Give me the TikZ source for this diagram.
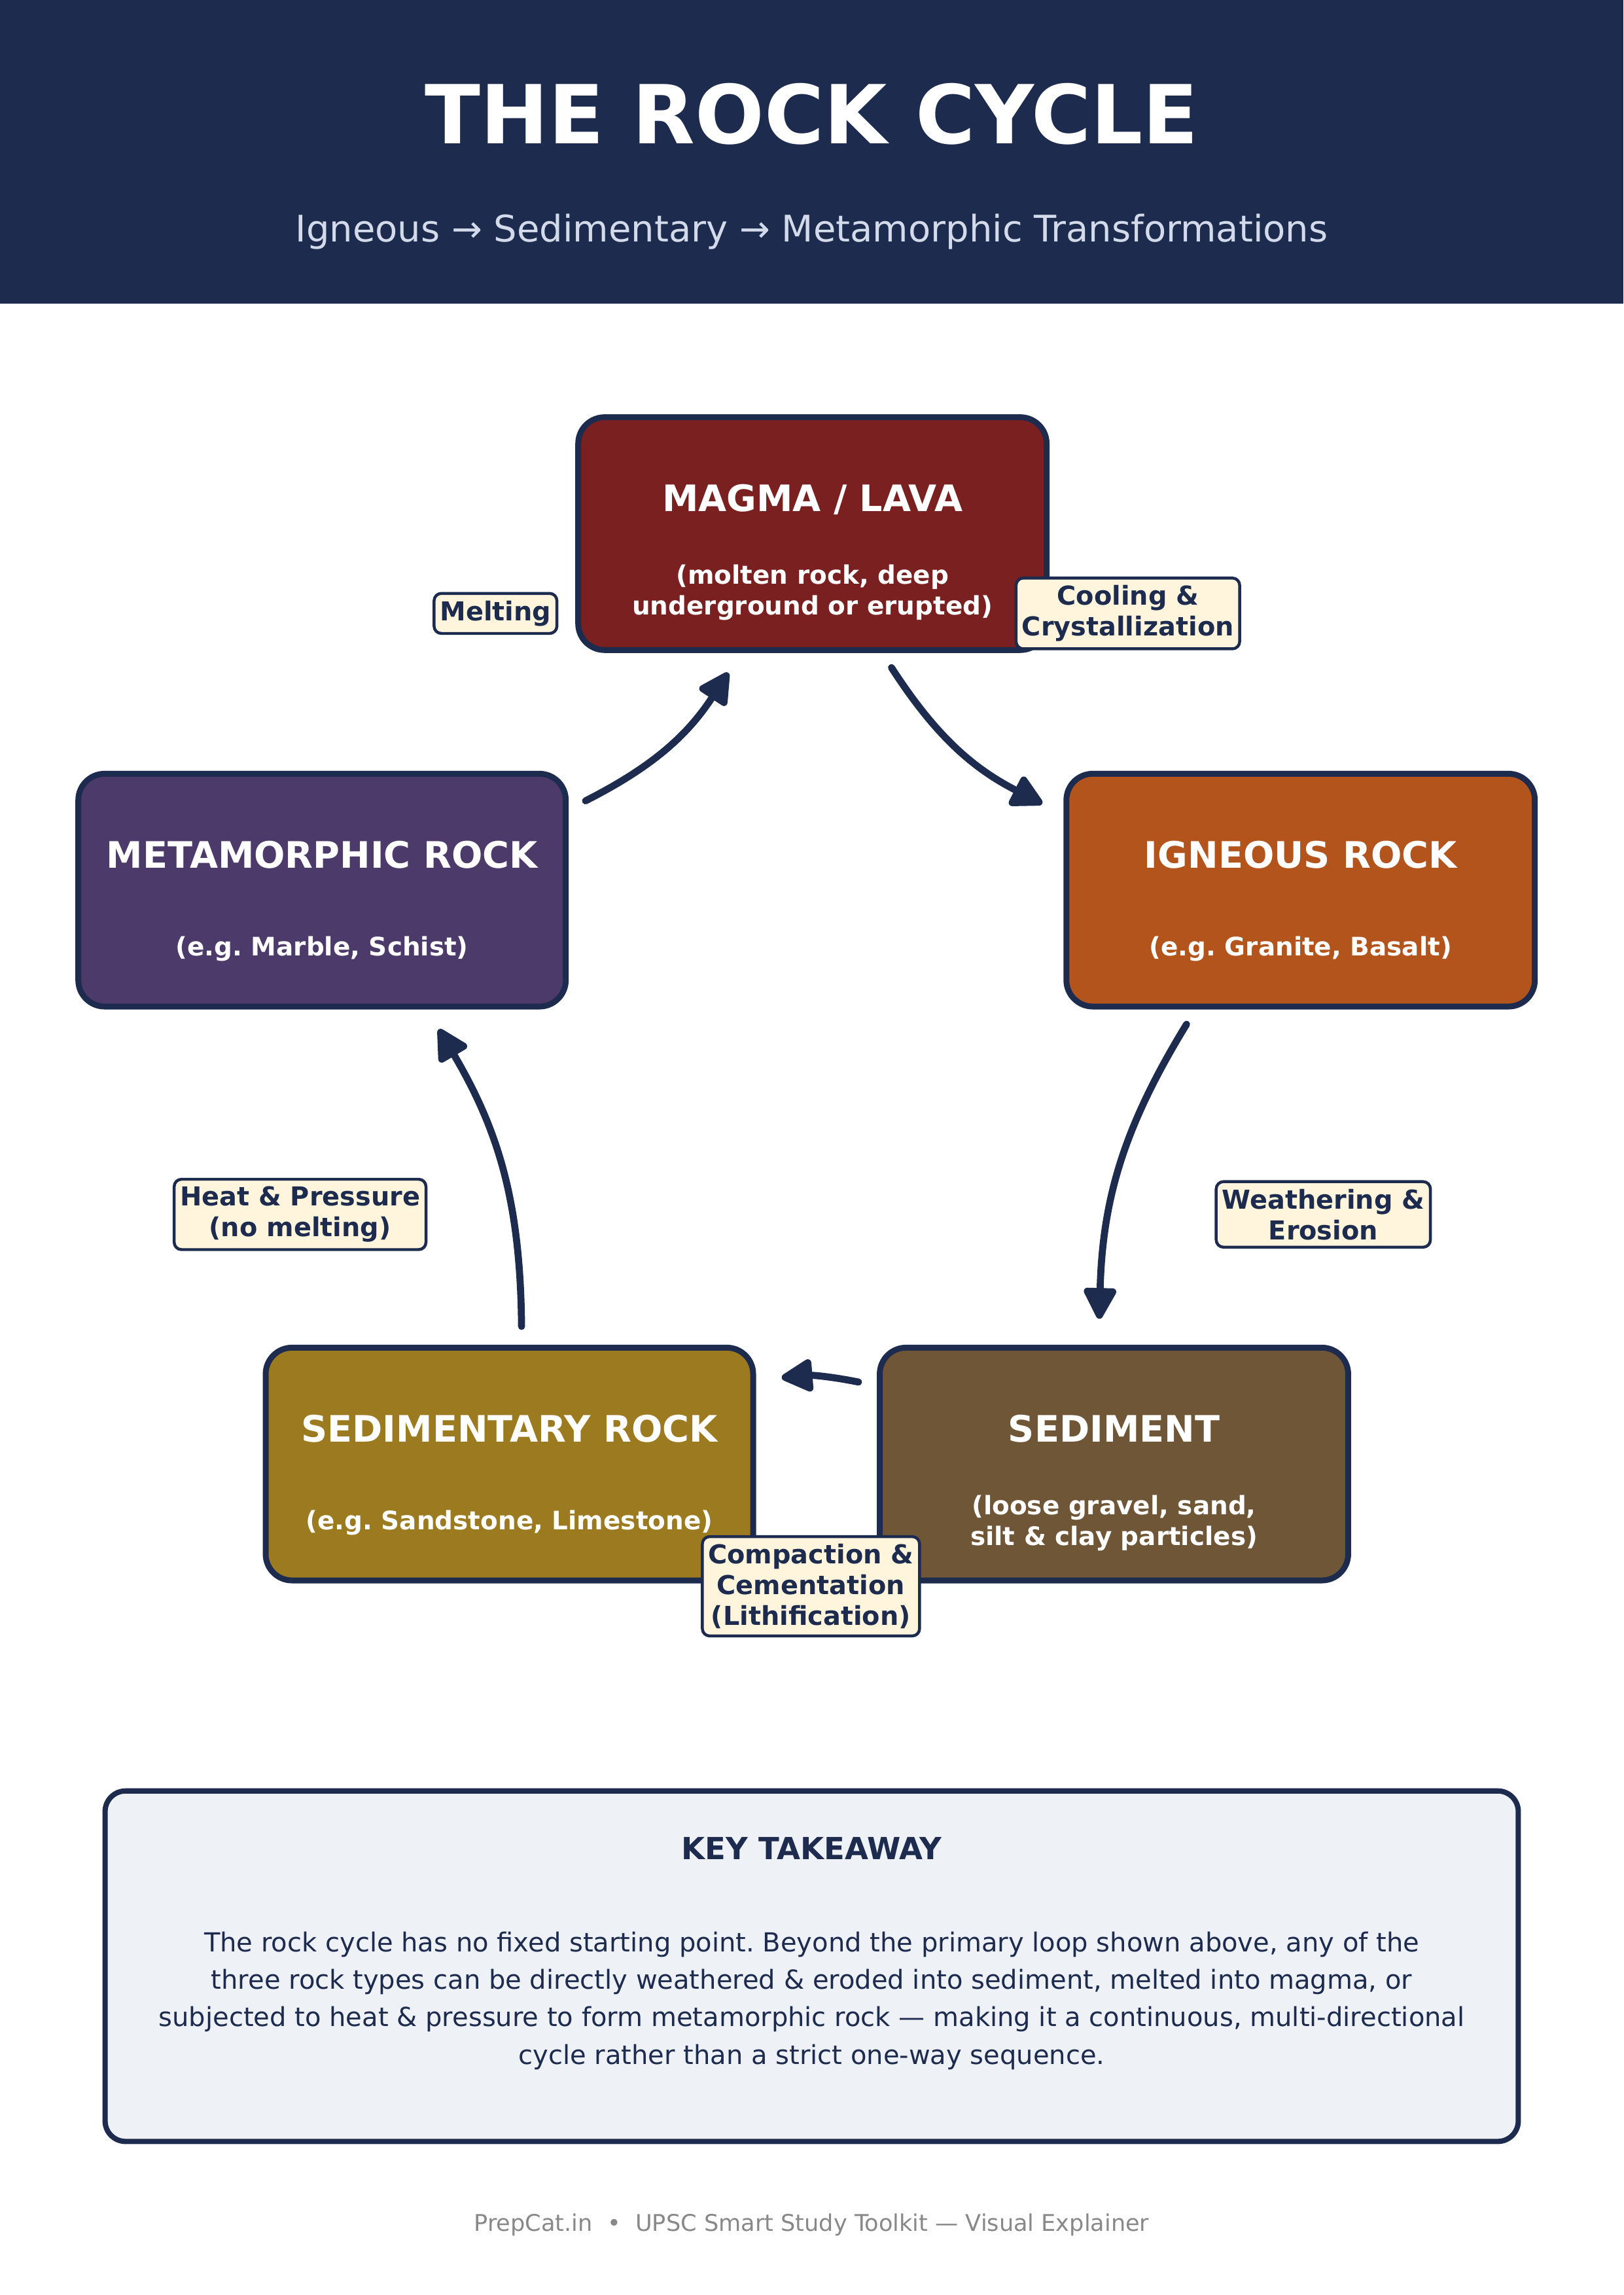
\documentclass[tikz,border=0pt]{standalone}
\usepackage{fontspec}
\setmainfont{DejaVu Sans}
\usetikzlibrary{arrows.meta,calc}
\definecolor{navy}{HTML}{1D2B4E}
\definecolor{magmac}{HTML}{7A2020}
\definecolor{metac}{HTML}{4B3A6A}
\definecolor{igc}{HTML}{B3541C}
\definecolor{sedrc}{HTML}{9C7B20}
\definecolor{sedc}{HTML}{6E5637}
\definecolor{cream}{HTML}{FFF5DC}
\definecolor{pale}{HTML}{EEF1F6}
\definecolor{subt}{HTML}{D3DAEA}
\definecolor{footgray}{HTML}{888888}
\frenchspacing
\begin{document}
\begin{tikzpicture}[x=0.5pt,y=0.5pt,
  rockbox/.style={draw=navy, line width=2pt, rounded corners=9pt, minimum height=79.5pt, inner sep=0pt},
  narrowbox/.style={rockbox, minimum width=160pt},
  widebox/.style={rockbox, minimum width=166.5pt},
  boxtitle/.style={anchor=base, text=white, inner sep=0pt, font=\fontsize{12.45pt}{15pt}\selectfont\bfseries},
  boxsub/.style={anchor=base, text=white, inner sep=0pt, font=\fontsize{8.7pt}{10.5pt}\selectfont\bfseries},
  lbl/.style={draw=navy, line width=1pt, fill=cream, rounded corners=2.5pt, align=center, inner xsep=2pt, inner ysep=2.5pt, text=navy, font=\fontsize{8.9pt}{10.5pt}\selectfont\bfseries},
  arr/.style={draw=navy, line width=2.4pt, line cap=round, -{Triangle[length=12pt,width=12pt,round]}},
  bodyline/.style={anchor=base, text=navy, inner sep=0pt, font=\fontsize{8.95pt}{12.85pt}\selectfont}
]
\useasboundingbox (0,0) rectangle (1109,-1567.6);

% header
\fill[navy] (0,0) rectangle (1109,-207.5);
\node[anchor=base, text=white, inner sep=0pt, font=\fontsize{27.8pt}{33pt}\selectfont\bfseries] (title) at (554.5,-98) {THE ROCK CYCLE};
\node[anchor=base, text=subt, inner sep=0pt, font=\fontsize{12.5pt}{15pt}\selectfont] (subtitle) at (554.5,-165) {Igneous → Sedimentary → Metamorphic Transformations};

% rock boxes
\node[narrowbox, fill=magmac] (magma) at (555,-364.5) {};
\node[widebox, fill=metac] (meta) at (220,-608) {};
\node[narrowbox, fill=igc] (ign) at (888.5,-608) {};
\node[widebox, fill=sedrc] (sedr) at (348,-1000) {};
\node[narrowbox, fill=sedc] (sed) at (761,-1000) {};

% arrow end points
\coordinate (a1s) at (400,-547);
\coordinate (a1e) at (497.5,-459.5);
\coordinate (a2s) at (609,-456);
\coordinate (a2e) at (712,-549);
\coordinate (a3s) at (810.6,-699.6);
\coordinate (a3e) at (751,-900.8);
\coordinate (a4s) at (586.5,-944);
\coordinate (a4e) at (534,-941);
\coordinate (a5s) at (356.3,-906);
\coordinate (a5e) at (299.8,-703);

\draw[arr] (a1s) to[bend right=15] (a1e);
\draw[arr] (a2s) to[bend right=15] (a2e);
\draw[arr] (a3s) to[bend right=15] (a3e);
\draw[arr] (a4s) to[bend right=8] (a4e);
\draw[arr] (a5s) to[bend right=15] (a5e);

% box texts
\node[boxtitle] (magmaT) at ($(magma)+(0,15)$) {MAGMA / LAVA};
\node[boxsub] (magmaS1) at ($(magma)+(0,-34.5)$) {(molten rock, deep};
\node[boxsub] (magmaS2) at ($(magma)+(0,-55.5)$) {underground or erupted)};

\node[boxtitle] (metaT) at ($(meta)+(0,15)$) {METAMORPHIC ROCK};
\node[boxsub] (metaS) at ($(meta)+(0,-45)$) {(e.g. Marble, Schist)};

\node[boxtitle] (ignT) at ($(ign)+(0,15)$) {IGNEOUS ROCK};
\node[boxsub] (ignS) at ($(ign)+(0,-45)$) {(e.g. Granite, Basalt)};

\node[boxtitle] (sedrT) at ($(sedr)+(0,15)$) {SEDIMENTARY ROCK};
\node[boxsub] (sedrS) at ($(sedr)+(0,-45)$) {(e.g. Sandstone, Limestone)};

\node[boxtitle] (sedT) at ($(sed)+(0,15)$) {SEDIMENT};
\node[boxsub] (sedS1) at ($(sed)+(0,-34.5)$) {(loose gravel, sand,};
\node[boxsub] (sedS2) at ($(sed)+(0,-55.5)$) {silt \& clay particles)};

% process labels
\node[lbl] (melt) at (338.5,-419) {Melting};
\node[lbl] (cool) at (770.5,-419) {Cooling \&\\Crystallization};
\node[lbl] (heat) at (205,-829.5) {Heat \& Pressure\\(no melting)};
\node[lbl] (weath) at (904,-829.5) {Weathering \&\\Erosion};
\node[lbl] (comp) at (554,-1083.5) {Compaction \&\\Cementation\\(Lithification)};

% key takeaway
\node[draw=navy, line width=1.8pt, fill=pale, rounded corners=7pt, minimum width=482.7pt, minimum height=119.7pt, inner sep=0pt] (take) at (554.5,-1343) {};
\node[anchor=base, text=navy, inner sep=0pt, font=\fontsize{10.4pt}{12pt}\selectfont\bfseries] (takeT) at (554.5,-1270) {KEY TAKEAWAY};
\node[bodyline] (b1) at (554.5,-1333) {The rock cycle has no fixed starting point. Beyond the primary loop shown above, any of the};
\node[bodyline] (b2) at (554.5,-1358.6) {three rock types can be directly weathered \& eroded into sediment, melted into magma, or};
\node[bodyline] (b3) at (554.5,-1384.2) {subjected to heat \& pressure to form metamorphic rock — making it a continuous, multi-directional};
\node[bodyline] (b4) at (554.5,-1409.8) {cycle rather than a strict one-way sequence.};

% footer
\node[anchor=base, text=footgray, inner sep=0pt, font=\fontsize{7.85pt}{9.5pt}\selectfont] (foot) at (554.5,-1524) {PrepCat.in\ \ •\ \ UPSC Smart Study Toolkit — Visual Explainer};
\end{tikzpicture}
\end{document}
